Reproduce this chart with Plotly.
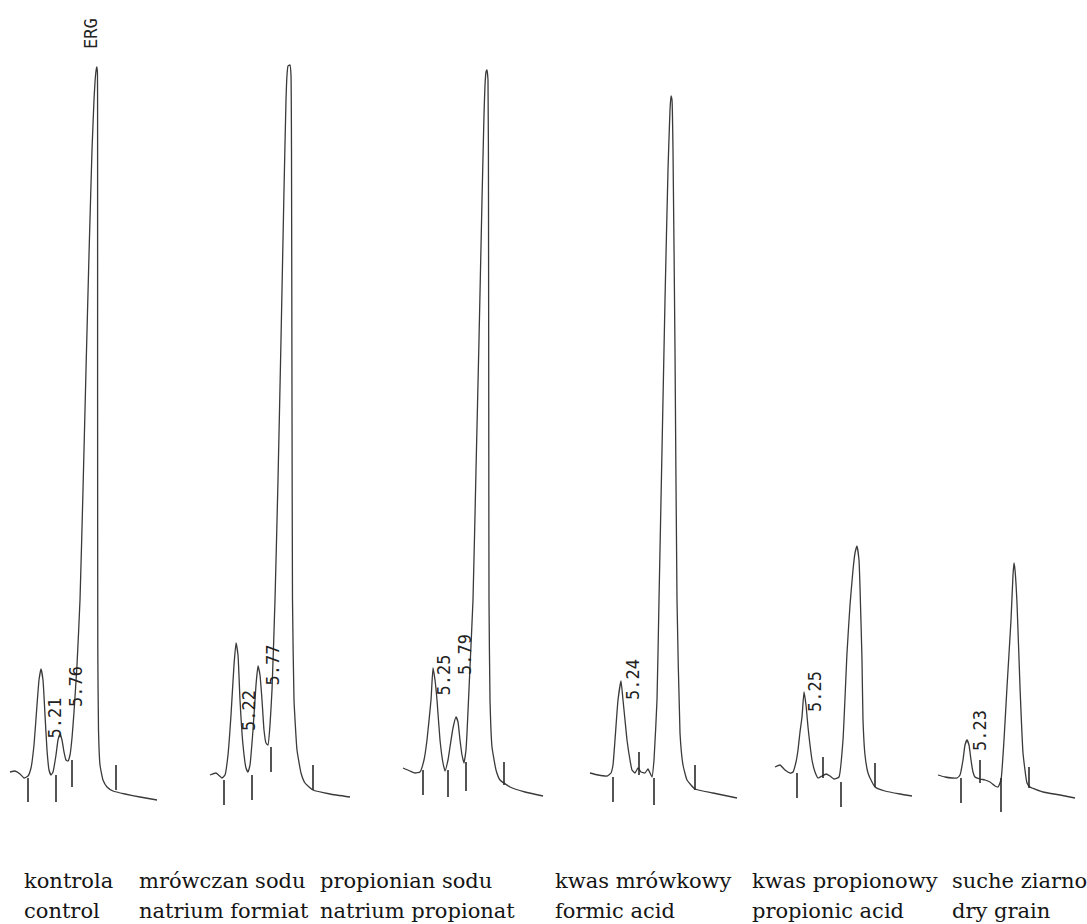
import plotly.graph_objects as go

# ---------------- data (retention time in min, detector signal in arbitrary units) -------------
p1_time = [4.85, 4.90, 4.95, 4.99, 5.03, 5.06, 5.09, 5.12, 5.14, 5.16, 5.18, 5.20, 5.22, 5.24, 5.26, 5.28,
           5.31, 5.33, 5.35, 5.37, 5.39, 5.41, 5.43, 5.45, 5.47, 5.49, 5.52, 5.55, 5.58, 5.61, 5.64, 5.67,
           5.69, 5.70, 5.71, 5.718, 5.724, 5.726, 5.726, 5.728, 5.735, 5.75, 5.78, 5.82, 5.88, 6.00, 6.15, 6.32]
p1_signal = [3, 4, 1, -3, -1, 7, 30, 70, 95, 106, 95, 60, 25, 5, 0, 3,
             20, 35, 41, 35, 23, 15, 14, 20, 37, 63, 110, 175, 285, 405, 520, 625,
             675, 693, 704, 708, 703, 635, 375, 125, 45, 10, -5, -12, -16, -19, -22, -25]
p1_tick_time = [5.03, 5.31, 5.47, 5.91]
p1_tick_top = [-3, 0, 15, 10]
p1_tick_bottom = [-27, -27, -12, -15]

p2_time = [4.90, 4.96, 5.02, 5.05, 5.08, 5.11, 5.14, 5.16, 5.18, 5.20, 5.23, 5.26, 5.28, 5.30, 5.33, 5.36,
           5.38, 5.40, 5.42, 5.44, 5.46, 5.48, 5.50, 5.52, 5.55, 5.58, 5.61, 5.64, 5.66, 5.67, 5.68, 5.70,
           5.71, 5.715, 5.72, 5.725, 5.74, 5.77, 5.81, 5.85, 5.93, 6.10, 6.30]
p2_signal = [0, 2, -3, 0, 20, 60, 110, 132, 120, 75, 30, 7, 3, 10, 45, 90,
             109, 100, 75, 45, 32, 30, 50, 85, 175, 295, 435, 585, 675, 700, 709, 710,
             700, 625, 375, 175, 75, 25, 2, -8, -15, -19, -22]
p2_tick_time = [5.04, 5.32, 5.51, 5.93]
p2_tick_top = [-5, 0, 28, 10]
p2_tick_bottom = [-30, -25, 3, -15]

p3_time = [4.88, 4.95, 5.00, 5.05, 5.09, 5.12, 5.16, 5.18, 5.20, 5.22, 5.25, 5.28, 5.30, 5.33, 5.35, 5.38,
           5.41, 5.43, 5.45, 5.47, 5.49, 5.51, 5.52, 5.55, 5.58, 5.61, 5.64, 5.67, 5.69, 5.70, 5.71, 5.72,
           5.73, 5.735, 5.738, 5.74, 5.75, 5.77, 5.81, 5.85, 5.95, 6.10, 6.28]
p3_signal = [7, 4, 2, 3, 15, 35, 75, 107, 95, 75, 35, 12, 4, 15, 28, 47,
             58, 53, 35, 20, 12, 25, 42, 108, 175, 305, 435, 575, 660, 690, 703, 705,
             695, 575, 325, 175, 75, 28, 5, -5, -12, -17, -21]
p3_tick_time = [5.08, 5.33, 5.51, 5.89]
p3_tick_top = [5, 5, 13, 13]
p3_tick_bottom = [-20, -22, -16, -10]

p4_time = [4.87, 4.95, 5.04, 5.08, 5.10, 5.12, 5.15, 5.18, 5.20, 5.22, 5.24, 5.27, 5.29, 5.32, 5.35, 5.38,
           5.42, 5.45, 5.49, 5.51, 5.54, 5.56, 5.59, 5.62, 5.65, 5.67, 5.68, 5.69, 5.70, 5.72, 5.74, 5.77,
           5.80, 5.84, 5.92, 6.10, 6.34]
p4_signal = [2, 0, -1, 2, 10, 35, 75, 94, 75, 55, 35, 15, 5, 2, 7, 3,
             2, 6, -2, 15, 75, 175, 325, 475, 605, 665, 679, 675, 625, 425, 175, 42,
             10, -5, -14, -18, -23]
p4_tick_time = [5.10, 5.36, 5.51, 5.92]
p4_tick_top = [-2, 23, -3, 10]
p4_tick_bottom = [-27, 0, -30, -15]

p5_time = [4.87, 4.92, 4.97, 5.02, 5.05, 5.08, 5.10, 5.12, 5.14, 5.16, 5.18, 5.20, 5.22, 5.24, 5.27, 5.30,
           5.34, 5.38, 5.42, 5.46, 5.51, 5.55, 5.59, 5.62, 5.65, 5.67, 5.69, 5.71, 5.72, 5.74, 5.75, 5.77,
           5.80, 5.84, 5.87, 5.97, 6.12, 6.24]
p5_signal = [8, 10, 5, 2, 3, 13, 25, 43, 58, 83, 70, 48, 30, 15, 3, -3,
             -1, 1, -1, -4, -2, 35, 122, 170, 205, 222, 229, 215, 188, 115, 55, 20,
             2, -7, -12, -16, -19, -21]
p5_tick_time = [5.09, 5.35, 5.53, 5.87]
p5_tick_top = [2, 18, -7, 12]
p5_tick_bottom = [-23, -3, -32, -12]

p6_time = [4.88, 4.95, 5.02, 5.07, 5.10, 5.13, 5.15, 5.17, 5.19, 5.21, 5.23, 5.25, 5.30, 5.35, 5.40, 5.45,
           5.48, 5.51, 5.54, 5.57, 5.61, 5.63, 5.64, 5.65, 5.67, 5.70, 5.73, 5.77, 5.80, 5.93, 6.10, 6.25]
p6_signal = [0, -2, -3, -3, 0, 15, 30, 35, 30, 15, 3, -2, -4, -5, -7, -11,
             -12, -5, 35, 88, 155, 200, 212, 205, 172, 88, 22, -8, -12, -17, -20, -23]
p6_tick_time = [5.11, 5.30, 5.51, 5.79]
p6_tick_top = [-3, 15, -3, 8]
p6_tick_bottom = [-28, -8, -37, -13]

# retention-time labels printed by the integrator
rt_labels = [["5.21", "5.76"], ["5.22", "5.77"], ["5.25", "5.79"], ["5.24"], ["5.25"], ["5.23"]]
rt_label_time = [[5.295, 5.51], [5.29, 5.525], [5.285, 5.50], [5.30], [5.27], [5.30]]
rt_label_signal = [[57, 88], [64, 110], [100, 120], [95], [83], [44]]
peak_name = "ERG"
peak_name_time = 5.66
peak_name_signal = 741

names_pl = ["kontrola", "mrówczan sodu", "propionian sodu", "kwas mrówkowy", "kwas propionowy", "suche ziarno"]
names_en = ["control", "natrium formiat", "natrium propionat", "formic acid", "propionic acid", "dry grain"]

# ---------------- layout helpers -------------
W, H = 1087, 924
panel_left = [5, 200, 395, 583, 768, 930]      # pixel offset of each chromatogram strip
panel_width = 155
t_range = [4.8, 6.35]
y_range = [-149, 775]
label_left = [22, 137, 318, 553, 750, 950]

panels = [
    (p1_time, p1_signal, p1_tick_time, p1_tick_top, p1_tick_bottom),
    (p2_time, p2_signal, p2_tick_time, p2_tick_top, p2_tick_bottom),
    (p3_time, p3_signal, p3_tick_time, p3_tick_top, p3_tick_bottom),
    (p4_time, p4_signal, p4_tick_time, p4_tick_top, p4_tick_bottom),
    (p5_time, p5_signal, p5_tick_time, p5_tick_top, p5_tick_bottom),
    (p6_time, p6_signal, p6_tick_time, p6_tick_top, p6_tick_bottom),
]

fig = go.Figure()
annotations = []
layout_axes = {}
label_font = dict(family="DejaVu Serif", size=21, color="#151515")
rt_font = dict(family="DejaVu Sans Mono", size=17, color="#222222")
for i, (tt, ss, kt, ktop, kbot) in enumerate(panels):
    xa = "x" if i == 0 else f"x{i + 1}"
    fig.add_trace(go.Scatter(x=tt, y=ss, xaxis=xa, yaxis="y", mode="lines",
                             line=dict(color="#3a3a3a", width=1.3, shape="spline", smoothing=0.4),
                             hoverinfo="skip", showlegend=False))
    kx, ky = [], []
    for t, a, b in zip(kt, ktop, kbot):
        kx += [t, t, None]
        ky += [a, b, None]
    fig.add_trace(go.Scatter(x=kx, y=ky, xaxis=xa, yaxis="y", mode="lines",
                             line=dict(color="#2a2a2a", width=1.6),
                             hoverinfo="skip", showlegend=False))
    key = "xaxis" if i == 0 else f"xaxis{i + 1}"
    layout_axes[key] = dict(domain=[panel_left[i] / W, (panel_left[i] + panel_width) / W],
                            range=t_range, visible=False, anchor="y", fixedrange=True)
    for txt, t, s in zip(rt_labels[i], rt_label_time[i], rt_label_signal[i]):
        annotations.append(dict(x=t, y=s, xref=xa, yref="y", text=txt, showarrow=False,
                                textangle=-90, xanchor="center", yanchor="middle",
                                font=rt_font))
    annotations.append(dict(x=label_left[i] / W, y=1 - 881 / H, xref="paper", yref="paper",
                            text=names_pl[i], showarrow=False, xanchor="left", yanchor="middle",
                            font=label_font))
    annotations.append(dict(x=label_left[i] / W, y=1 - 911 / H, xref="paper", yref="paper",
                            text=names_en[i], showarrow=False, xanchor="left", yanchor="middle",
                            font=label_font))

annotations.append(dict(x=peak_name_time, y=peak_name_signal, xref="x", yref="y", text=peak_name,
                        showarrow=False, textangle=-90, xanchor="center", yanchor="middle",
                        font=dict(family="DejaVu Sans Mono", size=17, color="#222222")))

fig.update_layout(
    width=W, height=H,
    margin=dict(l=0, r=0, t=0, b=0),
    paper_bgcolor="white", plot_bgcolor="white",
    yaxis=dict(domain=[0, 1], range=y_range, visible=False, fixedrange=True),
    annotations=annotations,
    showlegend=False,
    **layout_axes,
)

fig.write_html("out.html", config={"displayModeBar": False},
               post_script="document.body.style.margin='0px';document.body.style.overflow='hidden';")
